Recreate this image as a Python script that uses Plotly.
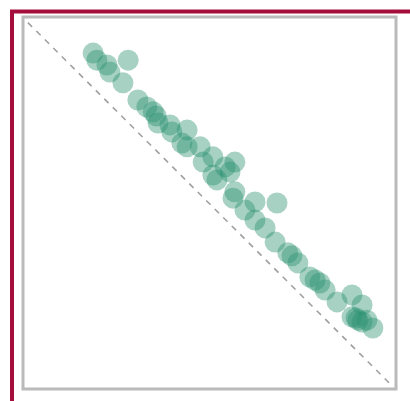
import plotly.graph_objects as go

# Observed points (x, y on a 0–100 scale)
x_vals = [18.8, 19.8, 22.5, 23.3, 28.2, 26.8, 30.8, 33.2, 34.9, 35.7,
          36.2, 39.4, 39.9, 44.0, 42.6, 44.0, 47.5, 48.3, 50.9, 50.9,
          52.0, 54.2, 56.8, 55.5, 56.8, 56.3, 62.2, 68.1, 59.5, 62.2,
          64.9, 67.6, 71.0, 72.1, 73.7, 76.9, 78.3, 79.6, 81.0, 84.2,
          88.2, 90.9, 88.2, 89.3, 89.8, 90.9, 92.2, 93.8]
y_vals = [90.3, 88.4, 87.1, 85.2, 88.4, 82.3, 77.7, 75.8, 74.5, 73.4,
          71.5, 71.0, 69.1, 69.6, 66.1, 65.1, 65.1, 61.0, 62.4, 57.5,
          56.2, 59.7, 61.0, 58.3, 53.0, 51.3, 50.3, 50.0, 48.1, 45.4,
          43.3, 39.5, 36.6, 35.8, 33.9, 30.1, 29.3, 28.5, 26.6, 23.4,
          25.3, 22.6, 19.4, 19.1, 18.5, 18.0, 18.5, 16.4]

# Reference diagonal
diag_x = [1.3, 98.2]
diag_y = [98.5, 1.6]

fig = go.Figure()

fig.add_trace(go.Scatter(
    x=diag_x, y=diag_y, mode="lines",
    line=dict(color="#a0a0a0", width=1.6, dash="6px,6px"),
    hoverinfo="skip", showlegend=False,
))

fig.add_trace(go.Scatter(
    x=x_vals, y=y_vals, mode="markers",
    marker=dict(size=21, color="#2a9270", opacity=0.42, line=dict(width=0)),
    showlegend=False,
))

axis_style = dict(range=[0, 100], showgrid=False, zeroline=False,
                  showticklabels=False, ticks="", showline=False)

fig.update_layout(
    width=410, height=401,
    margin=dict(l=23, r=14, t=17, b=12),
    paper_bgcolor="white", plot_bgcolor="white",
    xaxis=axis_style, yaxis=axis_style,
    shapes=[
        # outer accent border (top and left edges visible)
        dict(type="rect", xref="paper", yref="paper",
             x0=-0.0295, x1=1.2, y0=-0.2, y1=1.0148,
             line=dict(color="#a50e3c", width=4), layer="below"),
        # plot frame
        dict(type="rect", xref="paper", yref="paper",
             x0=0, x1=1, y0=0, y1=1,
             line=dict(color="#bababa", width=3), layer="above"),
    ],
)

fig.write_html("out.html")
